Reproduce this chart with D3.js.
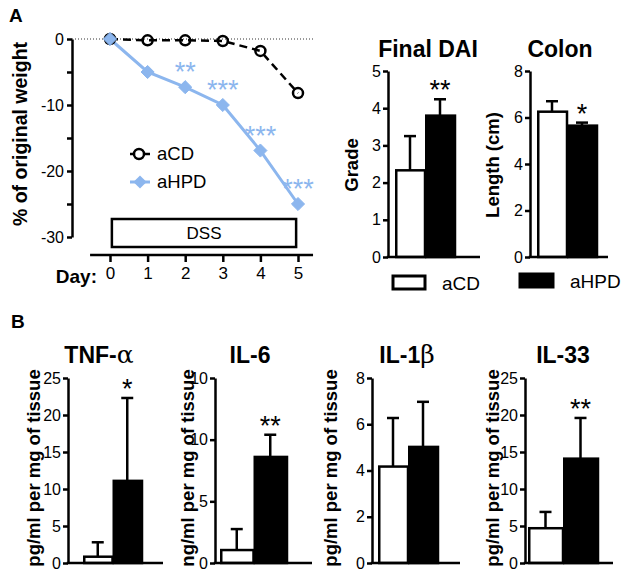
<!DOCTYPE html>
<html><head><meta charset="utf-8">
<script src="https://cdn.jsdelivr.net/npm/d3@7"></script>
<style>body{margin:0;background:#fff}svg{display:block;font-family:"Liberation Sans",Arial,sans-serif}</style>
</head><body><svg id="c" width="630" height="575"></svg>
<script>
// ---------- data ----------
const days = [0, 1, 2, 3, 4, 5];
const aCDWeight = [0, -0.2, -0.2, -0.3, -1.8, -8.2];
const aHPDWeight = [0, -5.0, -7.3, -10.0, -16.9, -25.0];
const weightStars = ["", "", "**", "***", "***", "***"];
const weightTicks = [0, -5, -10, -15, -20, -25, -30];
const weightTickLabels = ["0", "", "-10", "", "-20", "", "-30"];

const groups = ["aCD", "aHPD"];
const daiMean = [2.33, 3.8], daiErr = [0.92, 0.44], daiStars = ["", "**"];
const daiTicks = [0, 1, 2, 3, 4, 5];
const colonMean = [6.25, 5.65], colonErr = [0.45, 0.13], colonStars = ["", "*"];
const colonTicks = [0, 2, 4, 6, 8];
const tnfMean = [0.85, 11.1], tnfErr = [1.95, 11.2], tnfStars = ["", "*"];
const tnfTicks = [0, 5, 10, 15, 20, 25];
const il6Mean = [1.05, 8.6], il6Err = [1.7, 1.8], il6Stars = ["", "**"];
const il6Ticks = [0, 5, 10, 15];
const il6TickLabels = ["0", "5", "10", "10"];
const il1bMean = [4.17, 5.02], il1bErr = [2.1, 1.95], il1bStars = ["", ""];
const il1bTicks = [0, 2, 4, 6, 8];
const il33Mean = [4.7, 14.1], il33Err = [2.2, 5.5], il33Stars = ["", "**"];
const il33Ticks = [0, 5, 10, 15, 20, 25];

// ---------- drawing ----------
const svg = d3.select("#c");
svg.append("rect").attr("width", 630).attr("height", 575).attr("fill", "#fff");
const BLUE = "#8cb6ee";
const SW = 2.5;

function styleAxis(g, fs) {
  g.select(".domain").attr("stroke", "#000").attr("stroke-width", SW);
  g.selectAll(".tick line").attr("stroke", "#000").attr("stroke-width", SW);
  g.selectAll(".tick text").attr("fill", "#000").attr("font-size", fs)
    .attr("font-family", '"Liberation Sans",Arial,sans-serif');
}

// Panel labels
svg.append("text").attr("x", 9).attr("y", 22).attr("font-size", 19).attr("font-weight", "bold").text("A");
svg.append("text").attr("x", 11).attr("y", 328).attr("font-size", 19).attr("font-weight", "bold").text("B");

// ---- Line chart (weight) ----
const x = d3.scaleLinear().domain([0, 5]).range([110, 298]);
const y = d3.scaleLinear().domain([-30, 0]).range([237, 39]);

svg.append("line").attr("x1", 72).attr("x2", 313).attr("y1", y(0)).attr("y2", y(0))
  .attr("stroke", "#333").attr("stroke-width", 1).attr("stroke-dasharray", "1,2");

const yAx = svg.append("g").attr("transform", "translate(72,0)")
  .call(d3.axisLeft(y).tickValues(weightTicks).tickFormat((d, i) => weightTickLabels[i])
    .tickSize(5).tickSizeOuter(0).tickPadding(3));
styleAxis(yAx, 16);

// DSS box
svg.append("rect").attr("x", x(0.05)).attr("y", 219).attr("width", x(4.95) - x(0.05)).attr("height", 28)
  .attr("fill", "#fff").attr("stroke", "#000").attr("stroke-width", SW);
svg.append("text").attr("x", (x(0.05) + x(4.95)) / 2).attr("y", 239).attr("text-anchor", "middle")
  .attr("font-size", 17).text("DSS");

const xAx = svg.append("g").attr("transform", "translate(0,255)")
  .call(d3.axisBottom(x).tickValues(days).tickFormat(d3.format("d")).tickSize(7).tickSizeOuter(0).tickPadding(5));
styleAxis(xAx, 17);
xAx.select(".domain").remove();
xAx.append("line").attr("x1", x(-0.53)).attr("x2", x(5.4)).attr("y1", 0).attr("y2", 0)
  .attr("stroke", "#000").attr("stroke-width", SW);
svg.append("text").attr("x", 97).attr("y", 283).attr("text-anchor", "end").attr("font-size", 19)
  .attr("font-weight", "bold").text("Day:");

svg.append("text").attr("transform", "translate(27,134) rotate(-90)").attr("text-anchor", "middle")
  .attr("font-size", 19.5).attr("font-weight", "bold").text("% of original weight");

const line = d3.line().x((d, i) => x(days[i])).y(d => y(d));
svg.append("path").datum(aCDWeight).attr("d", line).attr("fill", "none").attr("stroke", "#000")
  .attr("stroke-width", SW).attr("stroke-dasharray", "8,5");
svg.append("path").datum(aHPDWeight).attr("d", line).attr("fill", "none").attr("stroke", BLUE)
  .attr("stroke-width", 3);

const diamond = d3.symbol().type(d3.symbolDiamond2).size(110);
svg.selectAll(".cd").data(aCDWeight).enter().append("circle")
  .attr("cx", (d, i) => x(days[i])).attr("cy", d => y(d)).attr("r", 5)
  .attr("fill", "none").attr("stroke", "#000").attr("stroke-width", SW);
svg.selectAll(".hpd").data(aHPDWeight).enter().append("path")
  .attr("d", diamond).attr("transform", (d, i) => `translate(${x(days[i])},${y(d)})`)
  .attr("fill", BLUE).attr("stroke", BLUE).attr("stroke-width", 1);
svg.selectAll(".wst").data(aHPDWeight).enter().append("text")
  .attr("x", (d, i) => x(days[i])).attr("y", d => y(d) - 6).attr("text-anchor", "middle")
  .attr("font-size", 27).attr("fill", BLUE).text((d, i) => weightStars[i]);

// legend (line chart)
svg.append("line").attr("x1", 130).attr("x2", 150).attr("y1", 154).attr("y2", 154)
  .attr("stroke", "#000").attr("stroke-width", SW);
svg.append("circle").attr("cx", 139).attr("cy", 154).attr("r", 5).attr("fill", "#fff")
  .attr("stroke", "#000").attr("stroke-width", SW);
svg.append("text").attr("x", 157).attr("y", 160).attr("font-size", 18.5).text(groups[0]);
svg.append("line").attr("x1", 130).attr("x2", 150).attr("y1", 182).attr("y2", 182)
  .attr("stroke", BLUE).attr("stroke-width", 3);
svg.append("path").attr("d", diamond).attr("transform", "translate(140,182)").attr("fill", BLUE);
svg.append("text").attr("x", 157).attr("y", 188).attr("font-size", 18.5).text(groups[1]);

// ---- Bar panels ----
const panels = [
  {mean: daiMean, err: daiErr, stars: daiStars, ticks: daiTicks, domain: [0, 5],
   ax: 388, y0: 257, y1: 71, b0: 395, b1: 455, ext: 480, title: ["Final DAI"], tx: 428, ty: 57,
   ylab: "Grade", lx: 358, ly: 165},
  {mean: colonMean, err: colonErr, stars: colonStars, ticks: colonTicks, domain: [0, 8],
   ax: 530, y0: 257, y1: 71, b0: 537, b1: 597, ext: 608, title: ["Colon"], tx: 560, ty: 57,
   ylab: "Length (cm)", lx: 499, ly: 165},
  {mean: tnfMean, err: tnfErr, stars: tnfStars, ticks: tnfTicks, domain: [0, 25],
   ax: 68, y0: 563, y1: 378, b0: 83, b1: 142, ext: 163, title: ["TNF-", "α"], tx: 99, ty: 363,
   ylab: "pg/ml per mg of tissue", lx: 40, ly: 468},
  {mean: il6Mean, err: il6Err, stars: il6Stars, ticks: il6Ticks, labels: il6TickLabels, domain: [0, 15],
   ax: 215, y0: 563, y1: 378, b0: 220, b1: 287, ext: 312, title: ["IL-6"], tx: 250, ty: 363,
   ylab: "ng/ml per mg of tissue", lx: 194, ly: 468},
  {mean: il1bMean, err: il1bErr, stars: il1bStars, ticks: il1bTicks, domain: [0, 8],
   ax: 372, y0: 563, y1: 378, b0: 378, b1: 438, ext: 460, title: ["IL-1", "β"], tx: 407, ty: 363,
   ylab: "pg/ml per mg of tissue", lx: 337, ly: 468},
  {mean: il33Mean, err: il33Err, stars: il33Stars, ticks: il33Ticks, domain: [0, 25],
   ax: 525, y0: 563, y1: 378, b0: 528, b1: 598, ext: 613, title: ["IL-33"], tx: 563, ty: 363,
   ylab: "pg/ml per mg of tissue", lx: 499, ly: 468}
];

panels.forEach(p => {
  const ys = d3.scaleLinear().domain(p.domain).range([p.y0, p.y1]);
  const xs = d3.scaleBand().domain(groups).range([p.b0, p.b1]).paddingInner(0);
  const g = svg.append("g");
  groups.forEach((k, i) => {
    const cx = xs(k) + xs.bandwidth() / 2;
    const top = ys(p.mean[i] + p.err[i]);
    g.append("line").attr("x1", cx).attr("x2", cx).attr("y1", ys(p.mean[i])).attr("y2", top)
      .attr("stroke", "#000").attr("stroke-width", SW);
    g.append("line").attr("x1", cx - 6).attr("x2", cx + 6).attr("y1", top).attr("y2", top)
      .attr("stroke", "#000").attr("stroke-width", SW);
    if (p.stars[i]) {
      g.append("text").attr("x", cx).attr("y", top).attr("dy", 0).attr("text-anchor", "middle")
        .attr("font-size", 27).text(p.stars[i]);
    }
  });
  g.selectAll(".bar").data(p.mean).enter().append("rect")
    .attr("x", (d, i) => xs(groups[i]) + SW / 2).attr("width", xs.bandwidth() - SW / 2)
    .attr("y", d => ys(d)).attr("height", d => ys(0) - ys(d))
    .attr("fill", (d, i) => i === 0 ? "#fff" : "#000").attr("stroke", "#000").attr("stroke-width", SW);
  const ax = g.append("g").attr("transform", `translate(${p.ax},0)`)
    .call(d3.axisLeft(ys).tickValues(p.ticks)
      .tickFormat((d, i) => p.labels ? p.labels[i] : d3.format("d")(d))
      .tickSize(5).tickSizeOuter(0).tickPadding(2));
  styleAxis(ax, 16);
  g.append("line").attr("x1", p.ax - SW / 2).attr("x2", p.ext).attr("y1", p.y0).attr("y2", p.y0)
    .attr("stroke", "#000").attr("stroke-width", SW);
  const t = g.append("text").attr("x", p.tx).attr("y", p.ty).attr("text-anchor", "middle")
    .attr("font-size", 23).attr("font-weight", "bold");
  t.append("tspan").text(p.title[0]);
  if (p.title[1]) t.append("tspan").attr("font-family", '"DejaVu Serif",serif').attr("font-weight", "normal")
    .attr("font-size", 25).text(p.title[1]);
  g.append("text").attr("transform", `translate(${p.lx},${p.ly}) rotate(-90)`).attr("text-anchor", "middle")
    .attr("font-size", 18.5).attr("font-weight", "bold").text(p.ylab);
});

// bar legend
svg.append("rect").attr("x", 393).attr("y", 276).attr("width", 32).attr("height", 13)
  .attr("fill", "#fff").attr("stroke", "#000").attr("stroke-width", 3);
svg.append("text").attr("x", 442).attr("y", 290).attr("font-size", 19).text(groups[0]);
svg.append("rect").attr("x", 519).attr("y", 273).attr("width", 35).attr("height", 15)
  .attr("fill", "#000").attr("stroke", "#000").attr("stroke-width", 1);
svg.append("text").attr("x", 570).attr("y", 288).attr("font-size", 19).text(groups[1]);
</script></body></html>
